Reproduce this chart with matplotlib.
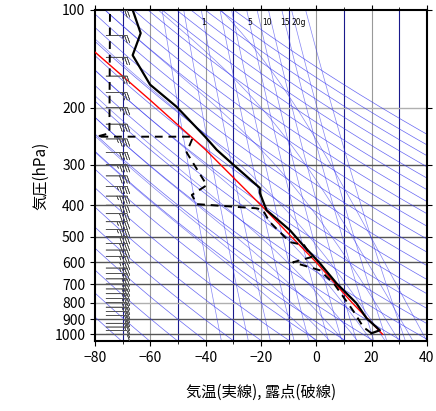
import numpy as np
import matplotlib
matplotlib.use("Agg")
import matplotlib.pyplot as plt

plt.rcParams['font.family'] = ['Noto Sans CJK JP', 'DejaVu Sans']

# observed temperature profile (hPa, degC)
temp_p = [993, 972, 893, 802, 696, 604, 531, 478, 414, 367, 354, 297, 270, 246, 199, 170, 138, 118, 100]
temp_t = [20.0, 23.0, 18.2, 14.5, 7.3, 1.3, -4.8, -9.5, -18.0, -20.4, -20.4, -30.6, -36.0, -40.2, -50.5, -60.1, -66.4, -63.5, -66.4]

# dewpoint profile
dew_p = [993, 950, 850, 700, 635, 600, 578, 531, 520, 451, 414, 409, 397, 372, 347, 275, 246, 246, 240, 100]
dew_t = [20.0, 17.0, 13.5, 6.5, 1.3, -8.4, -1.7, -4.4, -9.5, -16.8, -19.3, -21.6, -43.2, -45.0, -39.6, -46.9, -44.5, -79.4, -74.8, -74.6]

# parcel curve
parcel_p = [1000, 800, 600, 400, 270, 190, 135]
parcel_t = [24.0, 13.0, 0.0, -20.0, -40.0, -60.0, -80.0]

# wind barbs
wind_p = [1000, 975, 950, 925, 900, 875, 850, 825, 800, 775, 750, 725, 700, 675, 650, 625, 600, 575,
          550, 525, 500, 475, 450, 425, 400, 375, 350, 325, 300, 275, 250, 225, 200, 180, 160, 140, 120, 100]
wind_kt = [10, 10, 15, 15, 20, 20, 20, 25, 25, 25, 25, 30, 30, 30, 30, 35, 35, 35,
           40, 40, 40, 45, 45, 40, 40, 45, 45, 40, 45, 40, 45, 40, 35, 30, 30, 25, 25, 20]

mix_labels = [1, 5, 10, 15, 20]
mix_ratios = [0.2, 0.5, 1, 2, 3, 5, 7, 10, 15, 20, 30]


def sat_vp(t):
    return 6.112 * np.exp(17.67 * t / (t + 243.5))


def mix_line(w, p):
    e = w / 1000 * p / (0.622 + w / 1000)
    x = np.log(e / 6.112)
    return 243.5 * x / (17.67 - x)


def moist_adiabat(t0, p):
    out = [t0]
    t = t0 + 273.15
    for i in range(1, len(p)):
        dp = p[i] - p[i - 1]
        tc = t - 273.15
        rs = 0.622 * sat_vp(tc) / (p[i - 1] - sat_vp(tc))
        lv = 2.5e6
        num = 287 * t + lv * rs
        den = 1004 + lv * lv * rs * 0.622 / (287 * t * t)
        t += num / den / p[i - 1] * dp
        out.append(t - 273.15)
    return np.array(out)


fig = plt.figure(figsize=(4.36, 4.11), dpi=100)
ax = fig.add_axes([0.218, 0.170, 0.761, 0.806])
ax.set_yscale("log")
ax.set_xlim(-80, 40)
ax.set_ylim(1050, 100)

# grid
for t in range(-70, 40, 10):
    c = "#999999" if t % 20 == 0 else "#1a1a8c"
    ax.axvline(t, color=c, lw=0.8, zorder=1)
for p in range(200, 1001, 100):
    c = "#b0b0b0" if p in (200, 800) else "#555555"
    ax.axhline(p, color=c, lw=1.0, zorder=1)

pp = np.logspace(np.log10(1050), 2, 200)
# dry adiabats
for th in range(200, 480, 10):
    ax.plot(th * (pp / 1000) ** 0.286 - 273.15, pp, color="#3333ee", lw=0.5, alpha=0.75, zorder=2)
# moist adiabats
for t0 in range(0, 44, 5):
    ax.plot(moist_adiabat(t0, pp), pp, color="#3333ee", lw=0.5, alpha=0.6, zorder=2)
# mixing ratio lines
for w in mix_ratios:
    ax.plot(mix_line(w, pp), pp, color="#3333ee", lw=0.5, alpha=0.6, zorder=2)
for w, dx in zip(mix_labels, [0, 0, -1.5, 0, 1.5]):
    lab = f"{w}g" if w == 20 else str(w)
    ax.text(mix_line(w, 109) + dx, 109, lab, fontsize=5.5, ha="center", va="center", zorder=3,
            family="DejaVu Sans")

ax.plot(parcel_t, parcel_p, color="red", lw=1.0, zorder=4)
ax.plot(temp_t, temp_p, color="black", lw=1.6, zorder=5)
ax.plot(dew_t, dew_p, color="black", lw=1.4, ls=(0, (4, 3)), zorder=5)

spd = np.array(wind_kt)
ax.barbs(np.full(len(wind_p), -76.0), wind_p, -spd, np.zeros_like(spd), length=5.5,
         lw=0.45, color="#555555", zorder=4, sizes=dict(height=0.35, spacing=0.12))

ax.set_xticks(range(-80, 41, 20))
ax.set_xticks(range(-70, 40, 10), minor=True)
ax.set_yticks(range(100, 1001, 100))
ax.set_yticklabels([str(p) for p in range(100, 1001, 100)])
ax.yaxis.set_minor_locator(matplotlib.ticker.NullLocator())
ax.tick_params(direction="out", labelsize=10, top=True, right=True, which="both")
for s in ax.spines.values():
    s.set_linewidth(1.5)
ax.set_ylabel("気圧(hPa)", fontsize=11)
ax.set_xlabel("気温(実線), 露点(破線)", fontsize=11, labelpad=14)

fig.savefig("out.png", dpi=100)
